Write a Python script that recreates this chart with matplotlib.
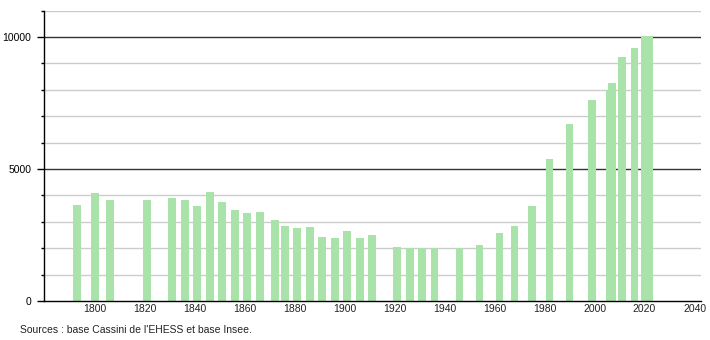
import matplotlib
matplotlib.use('Agg')
import matplotlib.pyplot as plt
from matplotlib.ticker import MultipleLocator

plt.rcParams['font.family'] = ['Liberation Sans', 'DejaVu Sans']

years = [1793, 1800, 1806, 1821, 1831, 1836, 1841, 1846, 1851, 1856,
         1861, 1866, 1872, 1876, 1881, 1886, 1891, 1896, 1901, 1906,
         1911, 1921, 1926, 1931, 1936, 1946, 1954, 1962, 1968, 1975,
         1982, 1990, 1999, 2006, 2007, 2011, 2016, 2020, 2022]
population = [3640, 4100, 3830, 3830, 3910, 3830, 3610, 4120, 3750, 3450,
              3345, 3380, 3070, 2850, 2780, 2790, 2440, 2375, 2650, 2400,
              2500, 2060, 2000, 2000, 2000, 2000, 2120, 2565, 2840, 3600,
              5370, 6705, 7615, 7990, 8245, 9255, 9595, 10040, 10050]
x_ticks = [1800, 1820, 1840, 1860, 1880, 1900, 1920, 1940, 1960, 1980, 2000, 2020, 2040]
source = "Sources : base Cassini de l'EHESS et base Insee."

fig = plt.figure(figsize=(7.1, 3.4), dpi=100)
ax = fig.add_axes([0.062, 0.1147, 0.925, 0.8538])

# grid first so the bars sit on top
for v in range(1000, 11001, 1000):
    if v % 5000 == 0:
        ax.axhline(v, color='#333333', lw=1.0, zorder=1)
    else:
        ax.axhline(v, color='#cccccc', lw=1.0, zorder=1)

ax.bar(years, population, width=3.1, color='#aae3aa', zorder=2)

ax.set_xlim(1779.7, 2042.5)
ax.set_ylim(0, 11000)

ax.set_xticks(x_ticks)
ax.tick_params(axis='x', length=0, pad=2, labelsize=7.5, colors='#222222')
ax.yaxis.set_major_locator(MultipleLocator(5000))
ax.yaxis.set_minor_locator(MultipleLocator(1000))
ax.tick_params(axis='y', which='major', length=5, width=1, pad=4, labelsize=7.5)
ax.tick_params(axis='y', which='minor', length=2, width=1)

for s in ['top', 'right']:
    ax.spines[s].set_visible(False)
ax.spines['left'].set_linewidth(1)
ax.spines['bottom'].set_linewidth(1)

fig.text(20 / 710, 1 - 330 / 340, source, fontsize=7.5, va='center', ha='left', color='#222222')

fig.savefig('out.png', dpi=100)
